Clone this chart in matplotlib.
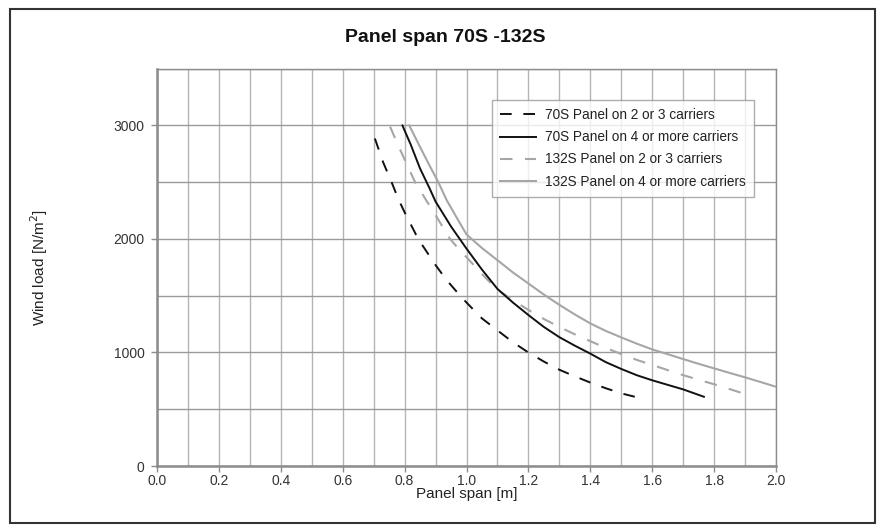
import matplotlib
matplotlib.use("Agg")
import matplotlib.pyplot as plt
from matplotlib.patches import Rectangle

plt.rcParams['font.family'] = ['Liberation Sans', 'DejaVu Sans']

# 70S Panel on 2 or 3 carriers
s70_23_x = [0.704, 0.73, 0.758, 0.78, 0.80, 0.844, 0.90, 0.936, 0.97, 1.0, 1.05, 1.1, 1.15,
            1.2, 1.25, 1.3, 1.35, 1.4, 1.45, 1.5, 1.548]
s70_23_y = [2885, 2680, 2500, 2350, 2235, 2000, 1770, 1637, 1530, 1440, 1300, 1195, 1090,
            1000, 920, 848, 790, 735, 685, 640, 607]
# 70S Panel on 4 or more carriers
s70_4_x = [0.793, 0.82, 0.85, 0.88, 0.90, 0.95, 1.0, 1.05, 1.1, 1.15, 1.2, 1.25, 1.3, 1.35,
           1.4, 1.45, 1.5, 1.55, 1.6, 1.65, 1.7, 1.767]
s70_4_y = [3000, 2830, 2620, 2450, 2330, 2110, 1915, 1730, 1560, 1440, 1330, 1225, 1135, 1060,
           990, 915, 855, 800, 755, 715, 675, 610]
# 132S Panel on 2 or 3 carriers
s132_23_x = [0.753, 0.78, 0.80, 0.834, 0.87, 0.90, 0.947, 0.985, 1.0, 1.05, 1.1, 1.15, 1.2,
             1.25, 1.3, 1.35, 1.4, 1.45, 1.5, 1.55, 1.6, 1.65, 1.7, 1.75, 1.8, 1.85, 1.9]
s132_23_y = [2990, 2820, 2700, 2500, 2340, 2210, 2000, 1880, 1840, 1690, 1552, 1460, 1375,
             1295, 1225, 1160, 1100, 1040, 986, 935, 890, 845, 800, 760, 720, 678, 634]
# 132S Panel on 4 or more carriers
s132_4_x = [0.815, 0.85, 0.88, 0.909, 0.936, 0.97, 1.0, 1.05, 1.1, 1.15, 1.2, 1.25, 1.3, 1.35,
            1.4, 1.45, 1.5, 1.55, 1.6, 1.65, 1.7, 1.75, 1.8, 1.85, 1.9, 1.95, 2.0]
s132_4_y = [3000, 2810, 2650, 2500, 2342, 2180, 2040, 1920, 1813, 1705, 1608, 1510, 1420, 1335,
            1256, 1190, 1133, 1078, 1027, 985, 942, 900, 860, 820, 781, 740, 698]

labels = ["70S Panel on 2 or 3 carriers", "70S Panel on 4 or more carriers",
          "132S Panel on 2 or 3 carriers", "132S Panel on 4 or more carriers"]

xticks = [0.0, 0.2, 0.4, 0.6, 0.8, 1.0, 1.2, 1.4, 1.6, 1.8, 2.0]
yticks = [0, 1000, 2000, 3000]

fig = plt.figure(figsize=(8.82, 5.32), dpi=100)
ax = fig.add_axes([157/882, 1-466/532, (776-157)/882, (466-68.7)/532])

black = "#111111"
gray = "#a6a6a6"
ax.plot(s70_23_x, s70_23_y, color=black, lw=1.4, dashes=(6, 6), label=labels[0], zorder=5)
ax.plot(s70_4_x, s70_4_y, color=black, lw=1.4, label=labels[1], zorder=5)
ax.plot(s132_23_x, s132_23_y, color=gray, lw=1.5, dashes=(6, 6), label=labels[2], zorder=4)
ax.plot(s132_4_x, s132_4_y, color=gray, lw=1.5, label=labels[3], zorder=4)

ax.set_xlim(0, 2.0)
ax.set_ylim(0, 3500)
ax.set_xticks(xticks)
ax.set_xticklabels([f"{v:.1f}" for v in xticks])
ax.set_xticks([i/10 for i in range(21)], minor=True)
ax.set_yticks(yticks)
ax.set_yticks([500, 1500, 2500, 3500], minor=True)
ax.grid(True, which='both', axis='x', color="#b4b4b4", lw=1.0)
ax.grid(True, which='both', axis='y', color="#9a9a9a", lw=1.0)
ax.set_axisbelow(True)
for s in ax.spines.values():
    s.set_color("#8c8c8c")
    s.set_linewidth(1.0)
ax.spines['left'].set_linewidth(1.8)
ax.spines['bottom'].set_linewidth(1.8)
ax.tick_params(which='major', length=4, width=1, color="#8c8c8c", labelsize=10,
               labelcolor="#333333")
ax.tick_params(axis='x', pad=2)
ax.tick_params(axis='y', pad=5)
ax.tick_params(which='minor', length=0)

ax.set_xlabel("Panel span [m]", fontsize=11, color="#222222")
ax.set_ylabel("Wind load [N/m$^2$]", fontsize=11, color="#222222")
ax.xaxis.set_label_coords(0.5, -(487-466)/397.3)
ax.yaxis.set_label_coords((50-157)/619, 0.5)

leg = ax.legend(loc='upper left', bbox_to_anchor=((492-157)/619, (466-100)/397.3),
                frameon=True, fancybox=False, fontsize=9.8, handlelength=2.6,
                borderpad=0.6, labelspacing=0.6, handletextpad=0.7, borderaxespad=0)
leg.get_frame().set_edgecolor("#999999")
leg.get_frame().set_linewidth(1.0)
for t in leg.get_texts():
    t.set_color("#222222")

fig.text(445/882, 1-38/532, "Panel span 70S -132S", ha='center', va='center',
         fontsize=14, fontweight='bold', color="#111111")

fig.patches.append(Rectangle((10/882, 9/532), (875-10)/882, (523-9)/532, transform=fig.transFigure,
                             fill=False, edgecolor="#333333", lw=1.5))

fig.savefig("out.png", dpi=100)
